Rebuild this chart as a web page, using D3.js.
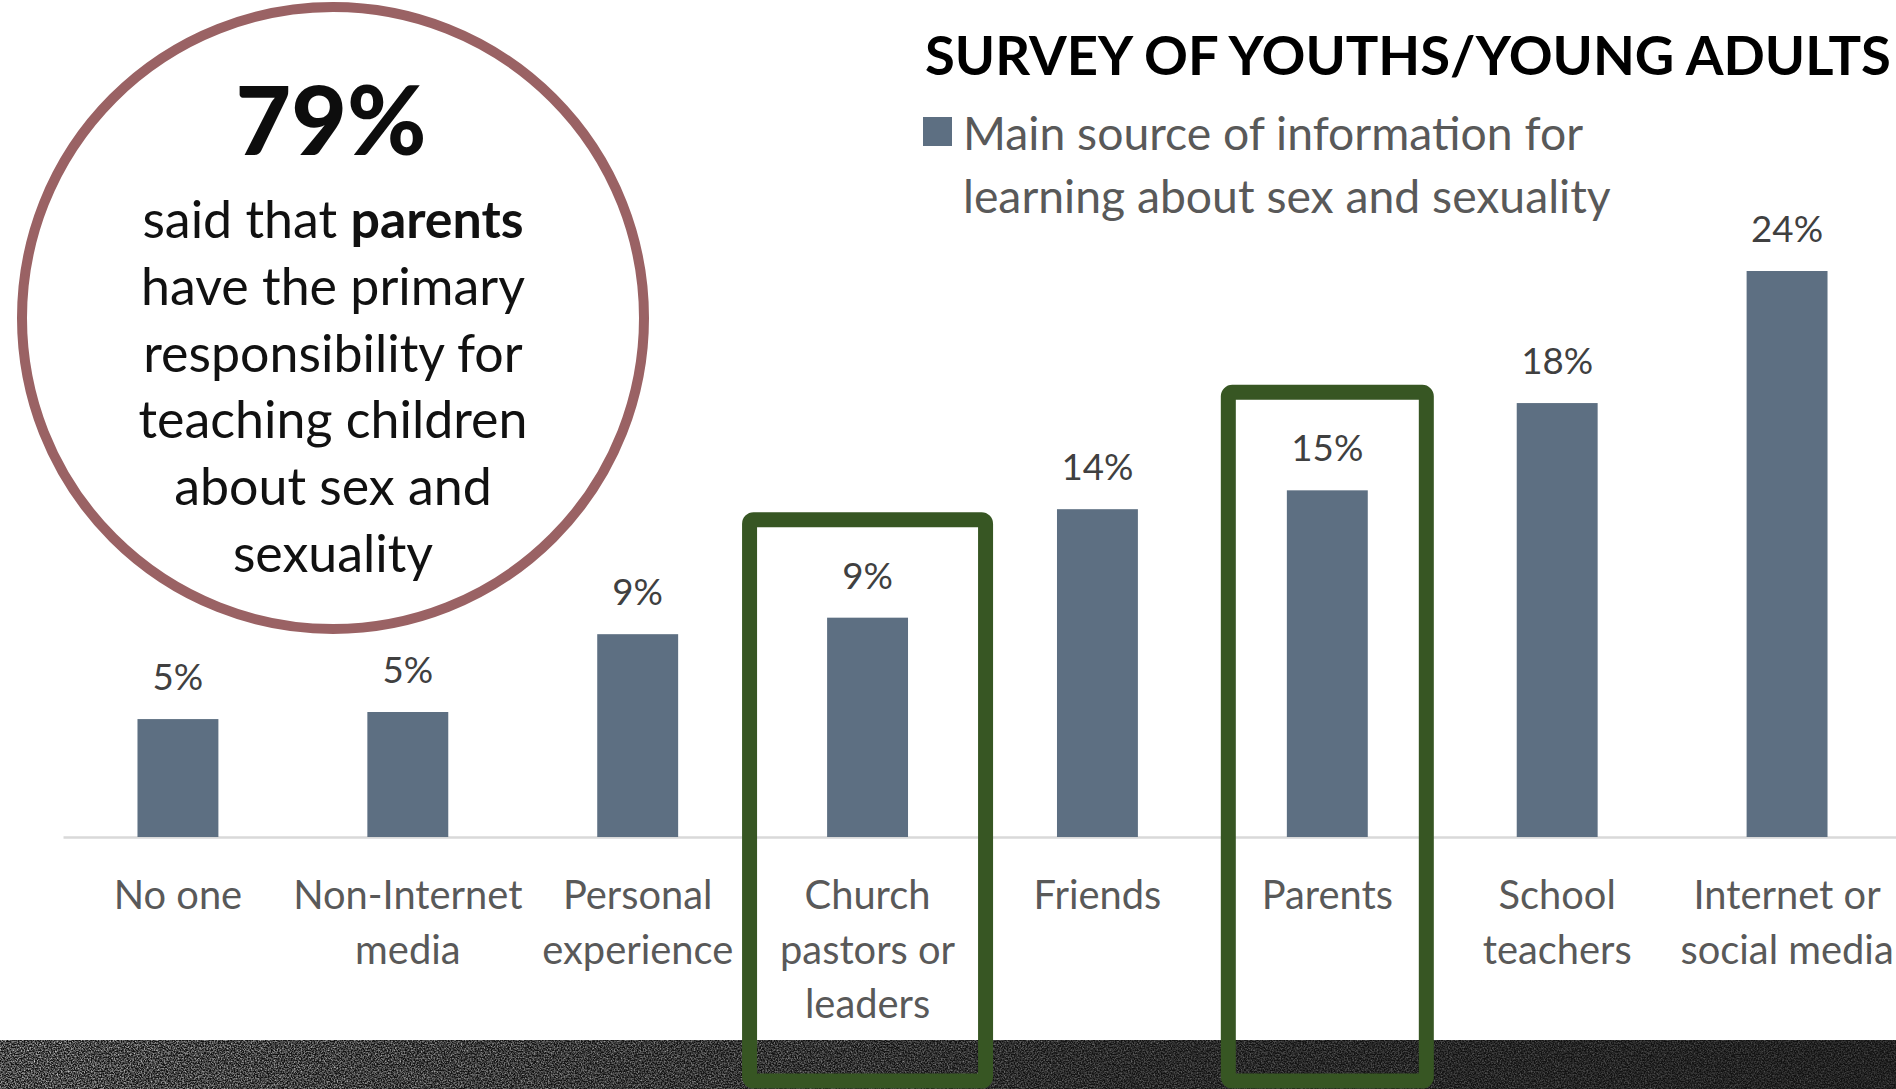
<!DOCTYPE html>
<html>
<head>
<meta charset="utf-8">
<script src="https://d3js.org/d3.v7.min.js"></script>
<style>
  html, body { margin: 0; padding: 0; background: #ffffff; overflow: hidden; }
  text { font-family: "Lato", "Open Sans", sans-serif; }
</style>
</head>
<body>
<div id="chart"></div>
<script>
// Chart data
var categories = ["No one", "Non-Internet media", "Personal experience", "Church pastors or leaders",
  "Friends", "Parents", "School teachers", "Internet or social media"];
var tickLines = [["No one"], ["Non-Internet", "media"], ["Personal", "experience"],
  ["Church", "pastors or", "leaders"], ["Friends"], ["Parents"], ["School", "teachers"],
  ["Internet or", "social media"]];
var shares = [5.0, 5.3, 8.6, 9.3, 13.9, 14.7, 18.4, 24.0];
var shareLabels = ["5%", "5%", "9%", "9%", "14%", "15%", "18%", "24%"];
var highlighted = ["Church pastors or leaders", "Parents"];
var seriesName = ["Main source of information for", "learning about sex and sexuality"];
var chartTitle = "SURVEY OF YOUTHS/YOUNG ADULTS";
var calloutFigure = "79%";
var calloutLines = [["said that ", "parents"], ["have the primary"], ["responsibility for"],
  ["teaching children"], ["about sex and"], ["sexuality"]];

// SVG area
var svgWidth = 1896;
var svgHeight = 1089;
var barColor = "#5d6f82";
var boxColor = "#375623";

var svg = d3.select("#chart")
  .append("svg")
  .attr("width", svgWidth)
  .attr("height", svgHeight);

// helper: scale font so text reaches a target width
function fitWidth(sel, target) {
  var w = sel.node().getComputedTextLength();
  var fs = parseFloat(sel.attr("font-size"));
  var size = fs * target / w;
  sel.attr("font-size", size);
  return size;
}

// grain filter for the dark strip at the bottom
var defs = svg.append("defs");
var grain = defs.append("filter").attr("id", "grain")
  .attr("x", 0).attr("y", 0).attr("width", 1).attr("height", 1);
grain.append("feTurbulence").attr("type", "fractalNoise")
  .attr("baseFrequency", 0.7).attr("numOctaves", 3).attr("seed", 7);
grain.append("feColorMatrix").attr("type", "matrix")
  .attr("values", "0 0 0 0 0.7  0 0 0 0 0.7  0 0 0 0 0.7  1.8 0 0 0 -0.62");
var fade = defs.append("linearGradient").attr("id", "fade");
fade.append("stop").attr("offset", "0%").attr("stop-color", "#fff").attr("stop-opacity", 1);
fade.append("stop").attr("offset", "60%").attr("stop-color", "#fff").attr("stop-opacity", 0.45);
fade.append("stop").attr("offset", "100%").attr("stop-color", "#fff").attr("stop-opacity", 0.3);
var fadeMask = defs.append("mask").attr("id", "fadeMask");
fadeMask.append("rect").attr("x", 0).attr("y", 1040).attr("width", svgWidth).attr("height", 49)
  .attr("fill", "url(#fade)");

svg.append("rect")
  .attr("x", 0).attr("y", 1040).attr("width", svgWidth).attr("height", 49)
  .attr("fill", "#121212");
svg.append("rect")
  .attr("x", 0).attr("y", 1040).attr("width", svgWidth).attr("height", 49)
  .attr("filter", "url(#grain)")
  .attr("mask", "url(#fadeMask)");

// Scales
var xScale = d3.scaleBand()
  .domain(categories)
  .range([63, 1902])
  .paddingInner(0.648)
  .paddingOuter(0.324);

var yScale = d3.scaleLinear()
  .domain([0, 24])
  .range([837, 271]);

// Bottom axis with multi-line labels
var bottomAxis = d3.axisBottom(xScale).tickSize(0).tickPadding(0);
var axisG = svg.append("g")
  .attr("transform", "translate(0, 837)")
  .call(bottomAxis);
axisG.select(".domain").attr("stroke", "#d9d9d9").attr("stroke-width", 2.5);
axisG.selectAll(".tick text")
  .text(null)
  .attr("y", 0)
  .attr("dy", null)
  .attr("fill", "#595959")
  .attr("font-size", 36)
  .each(function(d, i) {
    var t = d3.select(this);
    tickLines[i].forEach(function(line, j) {
      t.append("tspan")
        .attr("x", 0)
        .attr("y", 72 + j * 54.5)
        .text(line);
    });
  });
// size tick labels from the width of "experience"
var probe = svg.append("text").attr("font-size", 36).text("experience");
var tickSize = fitWidth(probe, 191);
probe.remove();
axisG.selectAll(".tick text").attr("font-size", tickSize);

// Bars
svg.selectAll(".bar")
  .data(categories)
  .enter()
  .append("rect")
  .attr("class", "bar")
  .attr("x", d => xScale(d))
  .attr("width", xScale.bandwidth())
  .attr("y", (d, i) => yScale(shares[i]))
  .attr("height", (d, i) => yScale(0) - yScale(shares[i]))
  .attr("fill", barColor);

// Value labels
var valueText = svg.selectAll(".value")
  .data(categories)
  .enter()
  .append("text")
  .attr("class", "value")
  .attr("x", d => xScale(d) + xScale.bandwidth() / 2)
  .attr("y", (d, i) => yScale(shares[i]) - 29)
  .attr("text-anchor", "middle")
  .attr("fill", "#404040")
  .attr("font-size", 36)
  .text((d, i) => shareLabels[i]);
var vprobe = svg.append("text").attr("font-size", 36).text("14%");
var valueSize = fitWidth(vprobe, 72);
vprobe.remove();
valueText.attr("font-size", valueSize);

// Highlight boxes around church and parents
var boxWidth = { "Church pastors or leaders": 236, "Parents": 198 };
svg.selectAll(".hl")
  .data(highlighted)
  .enter()
  .append("rect")
  .attr("class", "hl")
  .attr("x", d => xScale(d) + xScale.bandwidth() / 2 - boxWidth[d] / 2)
  .attr("y", d => yScale(shares[categories.indexOf(d)]) - 98)
  .attr("width", d => boxWidth[d])
  .attr("height", d => 1081 - (yScale(shares[categories.indexOf(d)]) - 98))
  .attr("rx", 4)
  .attr("fill", "none")
  .attr("stroke", boxColor)
  .attr("stroke-width", 15);

// Title
var title = svg.append("text")
  .attr("x", 925)
  .attr("y", 75)
  .attr("font-size", 60)
  .attr("font-weight", 700)
  .attr("fill", "#000")
  .text(chartTitle);
fitWidth(title, 966);

// Legend
svg.append("rect")
  .attr("x", 923).attr("y", 117)
  .attr("width", 29).attr("height", 29)
  .attr("fill", barColor);
var legendText = svg.append("text")
  .attr("fill", "#595959")
  .attr("font-size", 44);
legendText.selectAll("tspan")
  .data(seriesName)
  .enter()
  .append("tspan")
  .attr("x", 963)
  .attr("y", (d, i) => 150 + i * 63)
  .text(d => d);
var lprobe = svg.append("text").attr("font-size", 44).text(seriesName[1]);
var legendSize = fitWidth(lprobe, 648);
lprobe.remove();
legendText.attr("font-size", legendSize);

// Callout circle
svg.append("circle")
  .attr("cx", 333)
  .attr("cy", 318)
  .attr("r", 311)
  .attr("fill", "none")
  .attr("stroke", "#9a6264")
  .attr("stroke-width", 10);

var big = svg.append("text")
  .attr("x", 331)
  .attr("y", 155)
  .attr("text-anchor", "middle")
  .attr("font-size", 100)
  .attr("font-weight", 900)
  .attr("fill", "#0d0d0d")
  .text(calloutFigure);
fitWidth(big, 191);

var callout = svg.append("text")
  .attr("text-anchor", "middle")
  .attr("fill", "#111")
  .attr("font-size", 48);
calloutLines.forEach(function(parts, i) {
  var line = callout.append("tspan")
    .attr("x", 333)
    .attr("y", 238 + i * 66.8);
  parts.forEach(function(p, j) {
    var span = line.append("tspan").text(p);
    if (j === 1) span.attr("font-weight", 700);
  });
});
var cprobe = svg.append("text").attr("font-size", 48).text("teaching children");
var calloutSize = fitWidth(cprobe, 389);
cprobe.remove();
callout.attr("font-size", calloutSize);
</script>
</body>
</html>
